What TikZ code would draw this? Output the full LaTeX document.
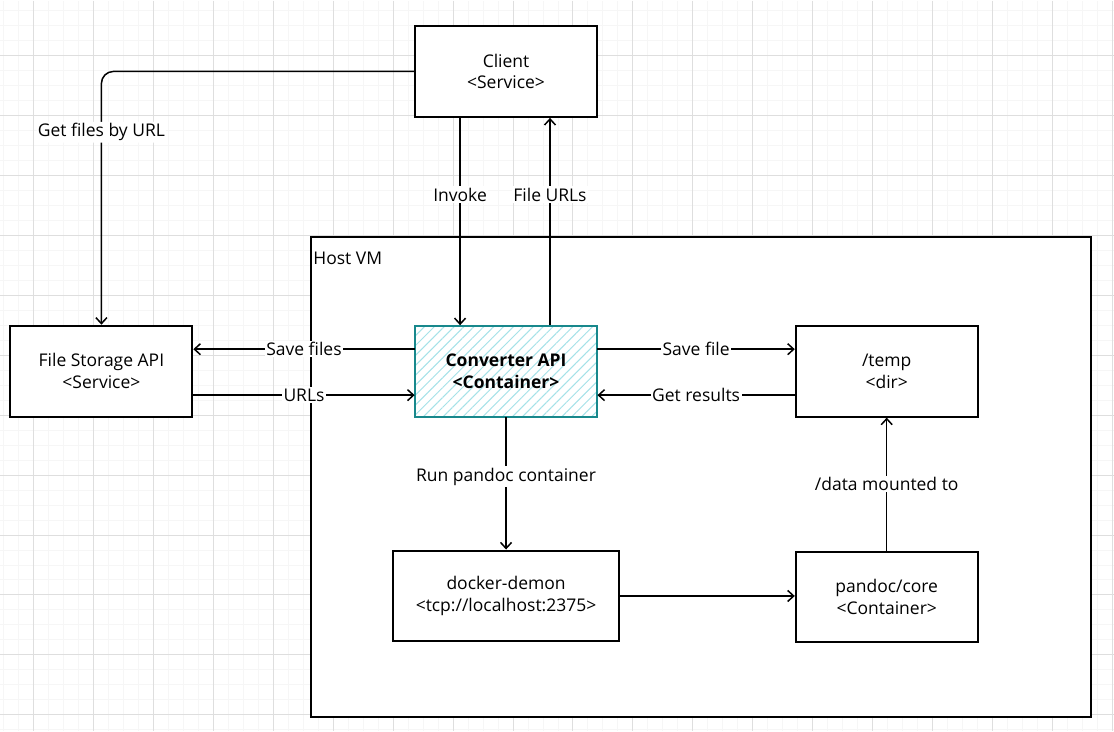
\documentclass[tikz,border=0pt]{standalone}
\usepackage{fontspec}
\setmainfont{Open Sans}
\usetikzlibrary{arrows.meta, positioning, patterns.meta}

\definecolor{convline}{RGB}{24,136,140}
\definecolor{convhatch}{RGB}{165,226,232}
\definecolor{gridminor}{RGB}{246,246,246}
\definecolor{gridmajor}{RGB}{222,222,222}

\begin{document}
\begin{tikzpicture}[x=1pt, y=1pt, >={Straight Barb[length=6pt,width=11pt]}, node distance=381pt,
    font=\fontsize{17.5}{22}\selectfont,
    box/.style={rectangle, draw, line width=2pt, minimum width=182pt, minimum height=91pt, align=center, fill=white},
    convbox/.style={box, draw=convline, fill=none, pattern={Lines[angle=45, distance=7pt, line width=1pt]}, pattern color=convhatch},
    lbl/.style={fill=white, inner sep=1.5pt},
    link/.style={->, line width=1.5pt}]

        % background grid
        \fill[white] (0,0) rectangle (1114,-731);
        \foreach \x in {3,18,...,1113} \draw[gridminor, line width=1pt] (\x,0) -- (\x,-731);
        \foreach \y in {10,25,...,730} \draw[gridminor, line width=1pt] (0,-\y) -- (1114,-\y);
        \foreach \x in {33,93,...,1113} \draw[gridmajor, line width=1pt] (\x,0) -- (\x,-731);
        \foreach \y in {55,115,...,730} \draw[gridmajor, line width=1pt] (0,-\y) -- (1114,-\y);
        \useasboundingbox (0,0) rectangle (1114,-731);

        % host
        \node[draw, line width=2pt, fill=white, minimum width=780pt, minimum height=480pt, anchor=north west] (host) at (310,-236) {};
        \node[anchor=west, inner sep=0pt] (hostlbl) at ([xshift=3pt,yshift=-22pt]host.north west) {Host VM};

        \node[convbox] (conv) at (506,-371) {\textbf{Converter API}\\\textbf{<Container>}};

        \node[box, above of=conv, node distance=300pt] (client) {Client\\<Service>};
        \node[box, left of=conv, node distance=405pt] (fs) {File Storage API\\<Service>};
        \node[box, right of=conv] (temp) {/temp\\<dir>};

        \node[box, below of=conv, node distance=225pt, minimum width=227pt] (docker) {docker-demon\\<tcp://localhost:2375>};
        \node[box, below of=temp, node distance=226pt] (pandoc) {pandoc/core\\<Container>};

        \draw[link, rounded corners=12pt] (client.west) -| (fs.north) node[lbl, pos=0.62] {Get files by URL};

        \draw[link] ([xshift=-46pt]conv.north |- client.south) -- ([xshift=-46pt]conv.north) node[lbl, pos=0.37] {Invoke};
        \draw[link] ([xshift=44pt]conv.north) -- ([xshift=44pt]conv.north |- client.south) node[lbl, pos=0.63] {File URLs};

        \draw[link] ([yshift=22pt]conv.west) -- ([yshift=22pt]conv.west -| fs.east) node[lbl, midway] {Save files};
        \draw[link] ([yshift=-24pt]fs.east) -- ([yshift=-24pt]fs.east -| conv.west) node[lbl, midway] {URLs};

        \draw[link] ([yshift=22pt]conv.east) -- ([yshift=22pt]conv.east -| temp.west) node[lbl, midway] {Save file};
        \draw[link] ([yshift=-24pt]temp.west) -- ([yshift=-24pt]temp.west -| conv.east) node[lbl, midway] {Get results};

        \draw[link] (conv.south) -- (docker.north) node[lbl, pos=0.45] {Run pandoc container};
        \draw[link] (docker.east) -- (docker.east -| pandoc.west);
        \draw[link] (pandoc.north) -- (temp.south) node[lbl, midway] {/data mounted to};

    \end{tikzpicture}
\end{document}
